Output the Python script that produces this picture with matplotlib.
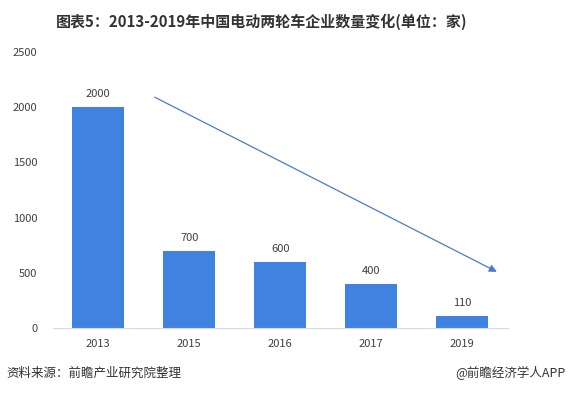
import matplotlib.pyplot as plt

plt.rcParams['font.family'] = ['Noto Sans CJK SC', 'DejaVu Sans']

# data
years = ['2013', '2015', '2016', '2017', '2019']
companies = [2000, 700, 600, 400, 110]
y_ticks = [0, 500, 1000, 1500, 2000, 2500]

bar_color = '#3F82E0'
text_color = '#404040'

fig = plt.figure(figsize=(5.68, 3.93), dpi=100)
ax = fig.add_axes([0.093, 0.165, 0.801, 0.703])

x = range(len(years))
ax.bar(x, companies, width=0.57, color=bar_color, zorder=2)

# value labels
for xi, v in zip(x, companies):
    ax.text(xi, v + 70, str(v), ha='center', va='bottom', fontsize=8, color=text_color)

# trend arrow
ax.annotate('', xy=(4.38, 510), xytext=(0.62, 2090),
            arrowprops=dict(arrowstyle='-|>', color='#4A7CC7', lw=0.9,
                            mutation_scale=11, shrinkA=0, shrinkB=0))

ax.set_xlim(-0.5, 4.5)
ax.set_ylim(0, 2500)
ax.set_xticks(list(x))
ax.set_xticklabels(years)
ax.set_yticks(y_ticks)
ax.tick_params(axis='both', length=0, labelsize=8, colors=text_color)
ax.tick_params(axis='x', pad=8)
ax.tick_params(axis='y', pad=11)

for side in ['top', 'right', 'left']:
    ax.spines[side].set_visible(False)
ax.spines['bottom'].set_color('#D9D9D9')

fig.text(0.46, 0.945, '图表5：2013-2019年中国电动两轮车企业数量变化(单位：家)',
         ha='center', va='center', fontsize=10.8, fontweight='bold', color='#333333')
fig.text(0.012, 0.05, '资料来源：前瞻产业研究院整理', ha='left', va='center',
         fontsize=9, color='#333333')
fig.text(0.995, 0.05, '@前瞻经济学人APP', ha='right', va='center',
         fontsize=9, color='#333333')

fig.savefig('out.png', dpi=100)
